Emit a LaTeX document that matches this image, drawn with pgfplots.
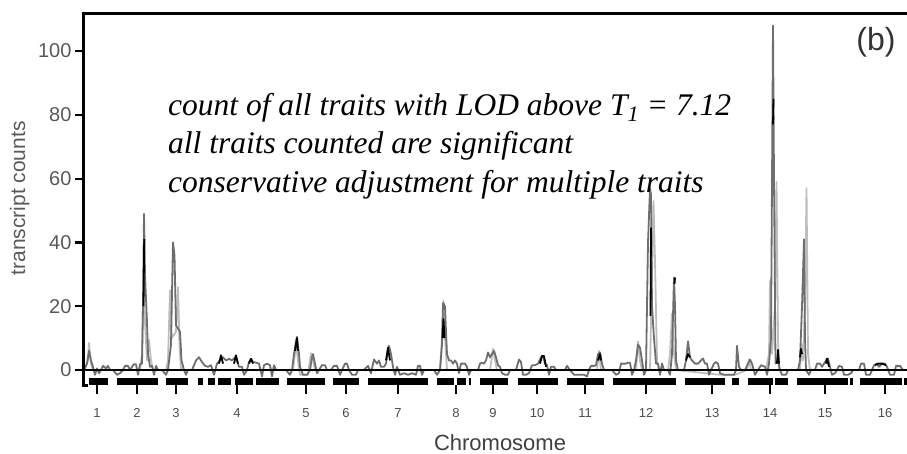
\documentclass[border=0pt]{standalone}
\usepackage{fontspec}
\setmainfont{Liberation Sans}
\newfontfamily\tnr{Liberation Serif}
\usepackage{pgfplots}
\pgfplotsset{compat=1.18}
\definecolor{lg}{HTML}{BDBDBD}
\definecolor{mg}{HTML}{6E6E6E}
\begin{document}
\begin{tikzpicture}
\path[use as bounding box] (0,0) rectangle (907pt,453pt);
\begin{axis}[
  at={(84pt,68pt)}, anchor=south west,
  scale only axis, width=823pt, height=371pt,
  xmin=84, xmax=907, ymin=-4.7, ymax=111.6,
  clip=false,
  axis line style={draw=none},
  xtick pos=left, ytick pos=left,
  tick align=outside,
  major tick length=9pt,
  tick style={black, line width=2.2pt},
  xtick={97,137,176,237,306,346,398,456,493,537,585,646,712,770,825,885},
  xticklabels={1,2,3,4,5,6,7,8,9,10,11,12,13,14,15,16},
  ytick={0,20,40,60,80,100},
  /pgf/number format/assume math mode=true,
  yticklabel style={font=\fontsize{20}{20}\selectfont, text=black!65},
  xticklabel style={font=\fontsize{13}{13}\selectfont, text=black!70, yshift=-11pt},
  xlabel={Chromosome},
  xlabel style={font=\fontsize{22}{22}\selectfont, text=black!75, at={(axis description cs:0.5055,-0.132)}, anchor=north, inner sep=0pt},
  ylabel={transcript counts},
  ylabel style={font=\fontsize{21}{21}\selectfont, text=black!65, at={(axis description cs:-0.078,0.503)}, anchor=center},
  unbounded coords=jump,
]
% light gray trace
\addplot[lg, line width=1.8pt, line join=round] coordinates {
(84,0) (88,3) (89,8.5) (91,2) (93,0) (140,0) (142,5) (143.5,28) (145,15) (147,3) (149,9.5) (151,3) (153,0)
(166,0) (168,3) (170,25) (171.5,10) (176,12) (178,26) (179.5,8) (181,0) (293,0) (296,8) (298,3) (300,-1.5)
(308,-1.5) (311,5.2) (313,3) (315,0) (440,0) (442,10) (443.5,21.8) (445,10) (447,0) (490,0) (493,6.7)
(495,3) (497,0) (597,0) (599,6) (601,0) (636,0) (638,9) (640,3) (642,0) (650,0) (652,30) (653.5,53)
(655,34) (657,3) (659,0) (668,0) (670,5) (672,17.7) (674,5) (676,0) (720,-1.5) (735,-1.5) (747,0)
(749,3.3) (751,0) (766,0) (769,5) (770,28) (772,5) (775,20) (776.5,59) (778,10) (779,0) (800,0) (802,8)
(803,3) (805,20) (806.5,57) (808,5) (810,0) (907,0)
};
% mid gray trace
\addplot[mg, line width=1.8pt, line join=round] coordinates {
(84,0) (87,2) (89,6) (91,3) (93,1) (95,-1.5) (97,0.5) (99,-1) (101,0) (103,1.3) (106,0.5) (108,1.3)
(110,0) (113,0) (117,-1.5) (120,-1) (123,0) (125,1.3) (128,1.3) (130,0) (132,1) (134,1.8) (136,1.8)
(138,-1.5) (140,1.8) (142,2) (143,20) (144,49) (145,30) (147,15) (148,5) (150,1) (152,1.3) (154,-1.5)
(156,1.3) (158,0) (162,0) (166,-1.5) (168,0) (171,8) (173,40) (174.5,36) (176,14) (178,13) (180,12)
(181.5,3) (184,0) (186,-1.5) (188,0) (192,0) (196,3) (199,4) (202,2.5) (205,1.3) (208,1) (211,1.5)
(214,-1.5) (217,2) (220,3) (223,4) (226,3) (229,3.5) (232,3) (235,4) (237,3) (239,1) (242,1) (244,-1.5)
(247,0) (249,2.5) (251,3.5) (253,2.5) (256,2.3) (259,2) (262,-2) (264,1.5) (267,2) (270,1.5) (272,-2)
(274,1.5) (276,0) (286,0) (290,-1.5) (292,0) (294,5) (296,9) (297,10.4) (299,5) (300,1) (303,-1.5)
(307,-1.5) (310,0) (312,4) (313,5) (315,2) (317,-1) (319,0) (322,1.5) (325,1.5) (327,0) (331,0)
(334,1.3) (337,1.3) (340,-1.5) (342,0) (345,2) (347,2) (349,0) (352,-1.5) (356,-1.5) (358,0) (364,0)
(368,1.3) (371,-1) (374,3.3) (377,2) (379,3) (381,1) (384,1) (386,2) (388,6) (389,7.6) (391,5) (393,1)
(395,-1.5) (397,1) (400,-1.5) (404,-1) (408,-1.5) (412,-1) (416,-1.5) (418,1.3) (420,1.3) (422,-1.5)
(424,0) (434,0) (437,-1.5) (440,0) (442,8) (443,21) (445,20) (446,12) (447,5) (449,3) (451,3) (453,2)
(455,3) (457,2) (459,-1) (461,2) (463,2) (465,2) (467,1) (469,-1.5) (471,0) (478,0) (480,2) (482,2.3)
(484,2) (486,3) (488,5.5) (490,4) (492,5) (494,6) (496,4) (498,1.5) (500,1) (502,-1) (505,-1.5)
(508,-1.5) (510,0) (516,0) (519,3.3) (521,2.5) (523,-1.5) (526,-1.5) (529,-1) (532,1.5) (535,1.5)
(538,2) (541,4) (543,4.4) (545,2) (547,1.5) (549,-1.5) (551,1) (554,1) (556,0) (565,0) (567,1.3)
(570,0) (574,-1.5) (580,-1.5) (584,-1.5) (587,-2) (589,0) (591,1.3) (594,1.3) (596,1.5) (598,5)
(600,5.5) (602,2) (604,0) (612,0) (616,-1.5) (619,-1) (621,2) (623,2) (626,2) (628,2.3) (630,2.3)
(632,-1.5) (634,0) (636,3) (638,8) (640,7) (642,3) (644,-1.5) (646,0) (648,40) (650,57) (651,55)
(652,20) (654,10) (656,2) (658,2) (660,-1.5) (662,2) (664,0) (668,0) (670,-1.5) (672,5) (674,29)
(675,20) (676,3) (678,0) (684,0) (686,3) (688,9) (690,4) (692,3) (695,2) (698,2) (701,3) (703,3.6)
(705,2) (707,2) (709,-1.5) (711,0) (714,2) (716,2.5) (718,2) (720,-1) (724,-1.5) (730,-1.5) (734,-1.5)
(736,0) (737,7.6) (739,1) (741,0) (745,0) (748,2) (750,3.3) (752,2) (755,-1.5) (758,0) (761,1.5)
(765,1) (767,-1.5) (769,2) (771,10) (773,108) (774,60) (775.5,2) (778,3) (780,0) (782,-1.5) (786,-1.5)
(788,0) (798,0) (800,3) (802,20) (804,41) (805,10) (806,0) (809,-1.5) (811,0) (815,0) (817,2) (820,2)
(822,1) (824,2) (826,3) (828,3.6) (830,1) (832,-1.5) (835,-1) (837,0) (839,1.3) (842,1) (844,-1.5)
(848,-1.5) (851,-1) (853,0) (859,0) (861,2) (864,2) (866,-1.5) (870,-1.5) (874,1.5) (877,2) (879,1)
(882,2) (885,2) (887,1) (890,-1.5) (894,-1.5) (896,1.3) (900,1.3) (903,0) (907,0)
};
% zero line
\addplot[black, line width=2pt] coordinates {(84,0) (907,0)};
% black trace pieces
\addplot[black, line width=1.8pt, line join=round] coordinates {
(143.5,20) (144.2,41) (144.3,nan)
(219,2) (221,4.6) (223,2) (223.5,nan)
(234,2) (236,4.6) (238,2) (238.5,nan)
(249,2) (251,3.5) (253,2) (253.5,nan)
(295,6) (297,10) (298,6) (298.5,nan)
(386,3) (388,7) (390,3) (390.5,nan)
(442.5,10) (443.5,16) (444.5,10) (445,nan)
(540,2) (542,4.4) (544,4.4) (546,1) (546.5,nan)
(598,3) (600,5) (601,3) (601.5,nan)
(650.5,17) (651,44.6) (651.2,nan)
(674.5,27) (675,29) (675.2,nan)
(686,3) (688,5) (690,4) (690.5,nan)
(773,77) (773.5,85) (773.6,nan)
(777,2) (778,6.3) (779,2) (779.5,nan)
(800,4) (801,6.6) (802,5) (802.5,nan)
(826,2) (827,3.6) (829,1) (829.5,nan)
(875,1.5) (878,2) (882,2) (886,1.5)
};
% rug of marker positions
\addplot[black, line width=7pt, line cap=butt] coordinates {
(89,-3.6) (108,-3.6) (108.5,nan) (117,-3.6) (158,-3.6) (158.5,nan) (166,-3.6) (188,-3.6) (188.5,nan)
(198,-3.6) (203,-3.6) (203.5,nan) (208,-3.6) (215,-3.6) (215.5,nan) (218,-3.6) (231,-3.6) (231.5,nan)
(235,-3.6) (253,-3.6) (253.5,nan) (256,-3.6) (279,-3.6) (279.5,nan) (287,-3.6) (325,-3.6) (325.5,nan)
(333,-3.6) (359,-3.6) (359.5,nan) (368,-3.6) (428,-3.6) (428.5,nan) (437,-3.6) (454,-3.6) (454.5,nan)
(457,-3.6) (466,-3.6) (466.5,nan) (469,-3.6) (471,-3.6) (471.5,nan) (480,-3.6) (508,-3.6) (508.5,nan)
(518,-3.6) (558,-3.6) (558.5,nan) (567,-3.6) (604,-3.6) (604.5,nan) (613,-3.6) (676,-3.6) (676.5,nan)
(685,-3.6) (725,-3.6) (725.5,nan) (732,-3.6) (739,-3.6) (739.5,nan) (748,-3.6) (773,-3.6) (773.5,nan)
(775,-3.6) (788,-3.6) (788.5,nan) (797,-3.6) (848,-3.6) (848.5,nan) (850,-3.6) (853,-3.6) (853.5,nan)
(860,-3.6) (902,-3.6) (902.5,nan) (904,-3.6) (907,-3.6)
};
% frame: left and top
\draw[black, line width=3pt] (axis cs:88,-4.7) -- (axis cs:84,-4.7) -- (axis cs:84,111.6) -- (axis cs:907,111.6);
% annotations
\node[anchor=base west, inner sep=0pt, font=\tnr\itshape\fontsize{31.5}{31.5}\selectfont] at (axis cs:168,79.9) {count of all traits with LOD above T\textsubscript{1} = 7.12};
\node[anchor=base west, inner sep=0pt, font=\tnr\itshape\fontsize{31.5}{31.5}\selectfont] at (axis cs:168,68.0) {all traits counted are significant};
\node[anchor=base west, inner sep=0pt, font=\tnr\itshape\fontsize{31.5}{31.5}\selectfont] at (axis cs:168,55.5) {conservative adjustment for multiple traits};
\node[anchor=center, inner sep=0pt, font=\fontsize{32}{32}\selectfont, text=black!80] at (axis cs:876,102.8) {(b)};
\end{axis}
\end{tikzpicture}
\end{document}
